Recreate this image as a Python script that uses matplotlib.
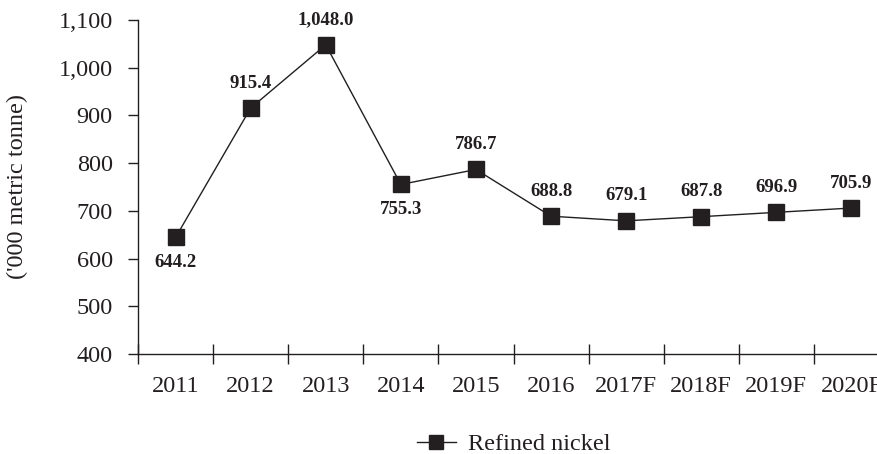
import matplotlib.pyplot as plt

years = ["2011", "2012", "2013", "2014", "2015", "2016", "2017F", "2018F", "2019F", "2020F"]
nickel = [644.2, 915.4, 1048.0, 755.3, 786.7, 688.8, 679.1, 687.8, 696.9, 705.9]
label_below = [True, False, False, True, False, False, False, False, False, False]

ink = "#231f20"
plt.rcParams["font.family"] = ["Liberation Serif", "DejaVu Serif"]

fig = plt.figure(figsize=(8.77, 4.54), dpi=100)
ax = fig.add_axes([138 / 877, 1 - 354 / 454, 751 / 877, 334 / 454])

x = list(range(len(years)))
ax.plot(x, nickel, color=ink, lw=1.0, marker="s", ms=12, mfc=ink, mec=ink,
        label="Refined nickel")

for xi, v, below in zip(x, nickel, label_below):
    ax.annotate(f"{v:,.1f}", (xi, v), xytext=(0, -18 if below else 18),
                textcoords="offset points", ha="center", va="center",
                fontsize=13.5, fontweight="bold", color=ink)

ax.set_xlim(-0.5, len(years) - 0.5)
ax.set_ylim(400, 1100)
ax.set_yticks(range(400, 1101, 100))
ax.set_yticklabels([f"{t:,}" for t in range(400, 1101, 100)])

ax.set_xticks([i - 0.5 for i in range(len(years) + 1)])
ax.set_xticklabels([])
ax.set_xticks(x, minor=True)
ax.set_xticklabels(years, minor=True)

ax.tick_params(axis="x", which="major", direction="inout", length=14, width=1, color=ink)
ax.tick_params(axis="x", which="minor", length=0, pad=16, labelsize=17.5, labelcolor=ink)
ax.tick_params(axis="y", direction="out", length=7.2, width=1, pad=11,
               labelsize=17.5, color=ink, labelcolor=ink)

for s in ["top", "right"]:
    ax.spines[s].set_visible(False)
for s in ["left", "bottom"]:
    ax.spines[s].set_color(ink)
    ax.spines[s].set_linewidth(1)

ax.set_ylabel("('000 metric tonne)", fontsize=17.5, color=ink)
ax.yaxis.set_label_coords((28 - 138) / 751, 0.5)

ax.legend(loc="center", bbox_to_anchor=(0.5, (354 - 444) / 334), frameon=False,
          fontsize=17.5, handlelength=1.6, handletextpad=0.5, markerscale=0.8,
          labelcolor=ink)

fig.savefig("out.png", dpi=100)
